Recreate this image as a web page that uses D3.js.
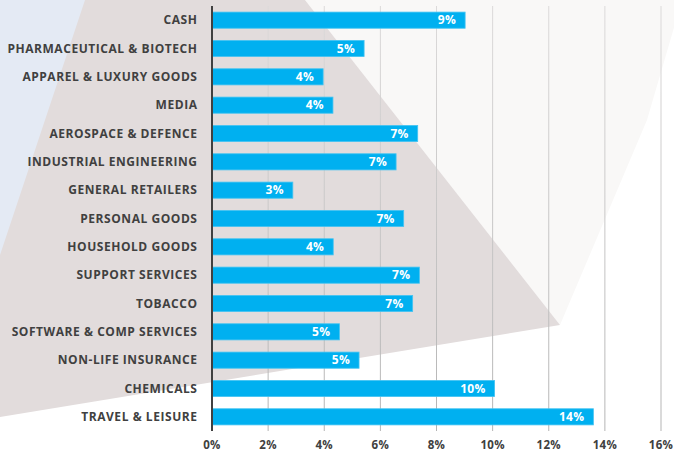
<!DOCTYPE html>
<html lang="en">
<head>
<meta charset="utf-8" />
<title>Sector weights</title>
<script src="https://cdn.jsdelivr.net/npm/d3@7"></script>
<style>
  body { margin: 0; background: #fff; font-family: 'Open Sans', 'Lato', sans-serif; }
  svg { display: block; }
  .cat { font-size: 12px; font-weight: 700; fill: #404040; letter-spacing: 0.55px; }
  .val { font-size: 12px; font-weight: 700; fill: #fff; letter-spacing: 0.3px; }
  .tick-lbl { font-size: 11.5px; font-weight: 700; fill: #404040; letter-spacing: 0.3px; }
</style>
</head>
<body>
<div id="chart"></div>
<script>
var categories = ["CASH", "PHARMACEUTICAL & BIOTECH", "APPAREL & LUXURY GOODS", "MEDIA",
  "AEROSPACE & DEFENCE", "INDUSTRIAL ENGINEERING", "GENERAL RETAILERS", "PERSONAL GOODS",
  "HOUSEHOLD GOODS", "SUPPORT SERVICES", "TOBACCO", "SOFTWARE & COMP SERVICES",
  "NON-LIFE INSURANCE", "CHEMICALS", "TRAVEL & LEISURE"];
var weights = [9.02, 5.42, 3.96, 4.31, 7.33, 6.56, 2.88, 6.83, 4.32, 7.39, 7.15, 4.54, 5.24, 10.07, 13.59];
var xTicks = [0, 2, 4, 6, 8, 10, 12, 14, 16];

var width = 674, height = 450;

var svg = d3.select("#chart").append("svg")
    .attr("width", width)
    .attr("height", height);

// background shapes
var bg = svg.append("g");
bg.append("polygon").attr("points", "305,0 682,0 647,120 560,325").attr("fill", "#f9f8f7");
bg.append("polygon").attr("points", "0,0 305,0 560,325 0,417").attr("fill", "#e2dcdc");
bg.append("polygon").attr("points", "0,0 85,0 0,255").attr("fill", "#e4eaf4");

var x = d3.scaleLinear().domain([0, 16]).range([212, 661]);
var y = d3.scaleBand().domain(categories).range([6, 431]).paddingInner(0.43).paddingOuter(0.215);

var grad = svg.append("defs").append("linearGradient")
    .attr("id", "gridfade")
    .attr("gradientUnits", "userSpaceOnUse")
    .attr("x1", 0).attr("y1", 6).attr("x2", 0).attr("y2", 431);
grad.append("stop").attr("offset", "0%").attr("stop-color", "#dcdada");
grad.append("stop").attr("offset", "100%").attr("stop-color", "#b4b4b4");

// gridlines
svg.append("g").selectAll("line")
  .data(xTicks.slice(1))
  .join("line")
    .attr("x1", d => x(d)).attr("x2", d => x(d))
    .attr("y1", 6).attr("y2", 431)
    .attr("stroke", "url(#gridfade)")
    .attr("stroke-width", 1);

// bars
svg.append("g").selectAll("rect")
  .data(weights)
  .join("rect")
    .attr("x", x(0))
    .attr("y", (d, i) => y(categories[i]))
    .attr("width", d => x(d) - x(0))
    .attr("height", y.bandwidth())
    .attr("fill", "#00b0f0")
    .attr("stroke", "#45c4f2")
    .attr("stroke-width", 0.8);

// value labels
svg.append("g").selectAll("text")
  .data(weights)
  .join("text")
    .attr("class", "val")
    .attr("x", d => x(d) - 9)
    .attr("y", (d, i) => y(categories[i]) + y.bandwidth() / 2)
    .attr("dy", "0.36em")
    .attr("text-anchor", "end")
    .text(d => Math.round(d) + "%");

// category labels
svg.append("g").selectAll("text")
  .data(categories)
  .join("text")
    .attr("class", "cat")
    .attr("x", 197.5)
    .attr("y", d => y(d) + y.bandwidth() / 2)
    .attr("dy", "0.36em")
    .attr("text-anchor", "end")
    .text(d => d);

// axis line
svg.append("line")
  .attr("x1", x(0)).attr("x2", x(0))
  .attr("y1", 6).attr("y2", 431)
  .attr("stroke", "#404040")
  .attr("stroke-width", 2);

// tick labels
svg.append("g").selectAll("text")
  .data(xTicks)
  .join("text")
    .attr("class", "tick-lbl")
    .attr("x", d => x(d))
    .attr("y", 448.5)
    .attr("text-anchor", "middle")
    .text(d => d + "%");
</script>
</body>
</html>
